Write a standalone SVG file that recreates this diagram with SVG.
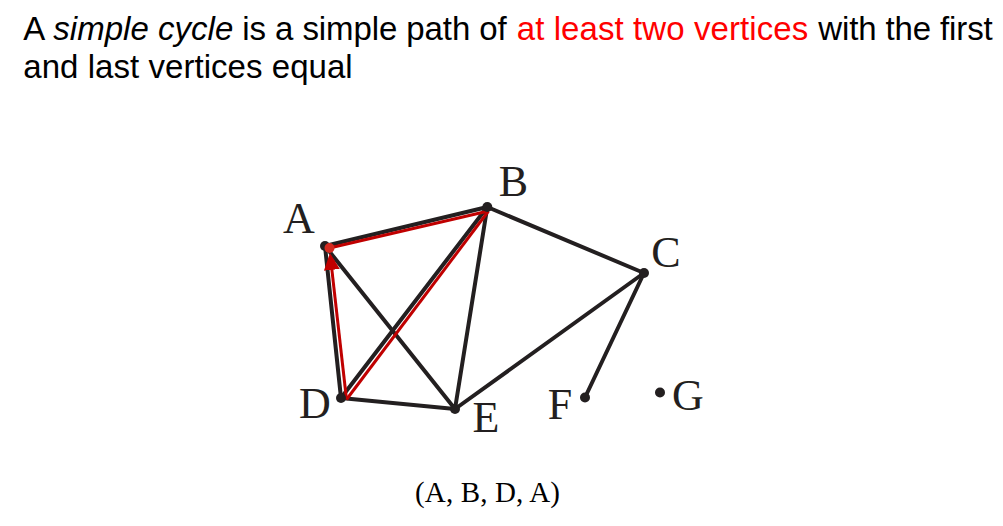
<svg xmlns="http://www.w3.org/2000/svg" width="1003" height="526" viewBox="0 0 1003 526">
<style>
.t{font-family:"Liberation Sans",Arial,sans-serif;font-size:33px;fill:#000}
.it{font-style:italic}
.red{fill:#ff0000}
.lbl{font-family:"Liberation Serif","Times New Roman",serif;font-size:44px;fill:#231f20;text-anchor:middle}
.cap{font-family:"Liberation Serif","Times New Roman",serif;font-size:29px;fill:#000}
.e{stroke:#231f20;stroke-width:4;fill:none;stroke-linecap:round}
.r{stroke:#c00000;stroke-width:3;fill:none}
.dot{fill:#231f20}
</style>
<defs>
<marker id="arr" markerUnits="userSpaceOnUse" markerWidth="18" markerHeight="18" viewBox="0 0 18 16" refX="7" refY="8" orient="auto">
<path d="M0,0 L17,8 L0,16 z" fill="#c00000"/>
</marker>
</defs>
<rect width="1003" height="526" fill="#fff"/>
<g id="title">
<text class="t" x="23.3" y="39.5" textLength="20" lengthAdjust="spacing">A</text>
<text class="t it" x="53.3" y="39.5" textLength="180" lengthAdjust="spacing">simple cycle</text>
<text class="t" x="242.3" y="39.5" textLength="264.4" lengthAdjust="spacing">is a simple path of</text>
<text class="t red" x="516.7" y="39.5" textLength="291.6" lengthAdjust="spacing">at least two vertices</text>
<text class="t" x="818.3" y="39.5" textLength="174.4" lengthAdjust="spacing">with the first</text>
<text class="t" x="23.3" y="77.5" textLength="329.4" lengthAdjust="spacing">and last vertices equal</text>
</g>
<g id="connectors">
<line class="e" x1="325" y1="246" x2="487.3" y2="207"/>
<line class="e" x1="325" y1="246" x2="455" y2="409"/>
<line class="e" x1="325" y1="246" x2="341" y2="398"/>
<line class="e" x1="487.3" y1="207" x2="341" y2="398"/>
<line class="e" x1="487.3" y1="207" x2="455" y2="409"/>
<line class="e" x1="487.3" y1="207" x2="644" y2="273"/>
<line class="e" x1="644" y1="273" x2="455" y2="409"/>
<line class="e" x1="644" y1="273" x2="585" y2="397.5"/>
<line class="e" x1="341" y1="398" x2="455" y2="409"/>
<line class="r" x1="329.5" y1="248" x2="488.5" y2="211"/>
<line class="r" x1="488.5" y1="211" x2="346.5" y2="399.5"/>
<line class="r" x1="346.5" y1="399.5" x2="331.1" y2="262.9" marker-end="url(#arr)"/>
</g>
<g id="node-A">
<circle class="dot" cx="325" cy="246" r="5"/>
<circle cx="329.5" cy="248" r="5" fill="#d42a20"/>
<text class="lbl" x="299" y="233">A</text>
</g>
<g id="node-B">
<circle class="dot" cx="487.3" cy="207" r="5"/>
<text class="lbl" x="513.5" y="196">B</text>
</g>
<g id="node-C">
<circle class="dot" cx="644" cy="273" r="5"/>
<text class="lbl" x="666" y="267">C</text>
</g>
<g id="node-D">
<circle class="dot" cx="341" cy="398" r="5"/>
<text class="lbl" x="315" y="418">D</text>
</g>
<g id="node-E">
<circle class="dot" cx="455" cy="409" r="5"/>
<text class="lbl" x="486" y="432">E</text>
</g>
<g id="node-F">
<circle class="dot" cx="585" cy="397.5" r="5"/>
<text class="lbl" x="560" y="419">F</text>
</g>
<g id="node-G">
<circle class="dot" cx="660" cy="392.5" r="5"/>
<text class="lbl" x="688" y="410">G</text>
</g>
<g id="caption">
<text class="cap" x="415" y="502" textLength="145" lengthAdjust="spacing">(A, B, D, A)</text>
</g>
</svg>
